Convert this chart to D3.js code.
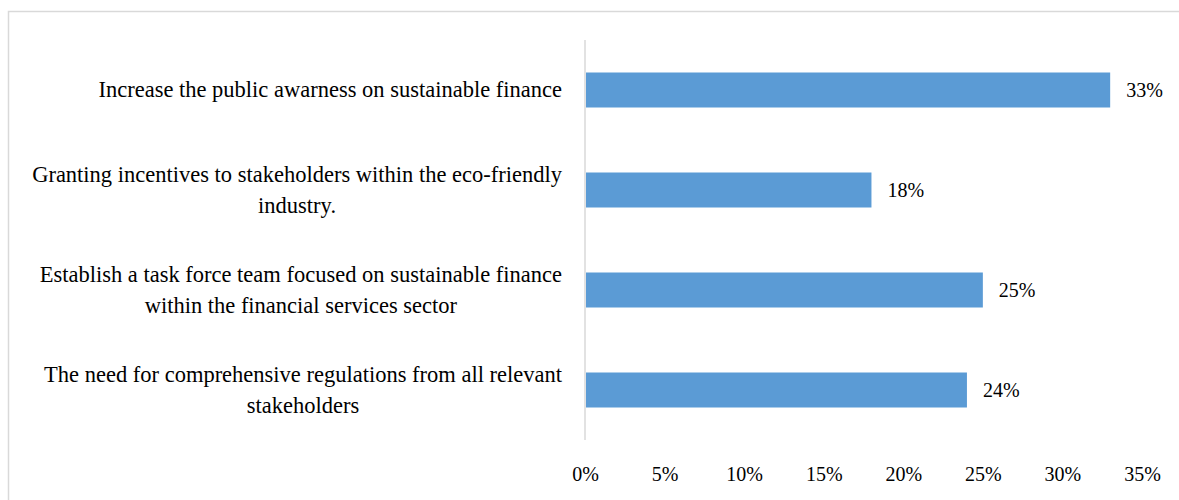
<!DOCTYPE html>
<html>
<head>
<meta charset="utf-8">
<script src="https://cdn.jsdelivr.net/npm/d3@7/dist/d3.min.js"></script>
<style>
  html, body { margin: 0; padding: 0; background: #fff; }
  svg { display: block; }
</style>
</head>
<body>
<svg id="chart" width="1179" height="500"></svg>
<script>
// Category labels (each entry is the list of lines as wrapped in the chart)
const categories = [
  ["Increase the public awarness on sustainable finance"],
  ["Granting incentives to stakeholders within the eco-friendly", "industry."],
  ["Establish a task force team focused on sustainable finance", "within the financial services sector"],
  ["The need for comprehensive regulations from all relevant", "stakeholders"]
];
const values = [0.33, 0.18, 0.25, 0.24];
const tickValues = [0, 0.05, 0.10, 0.15, 0.20, 0.25, 0.30, 0.35];

const svg = d3.select("#chart");
const W = 1179, H = 500;
const FONT = '"Liberation Serif"';

// Chart frame
svg.append("rect")
  .attr("x", 8.5).attr("y", 11.5)
  .attr("width", W + 10).attr("height", H + 10)
  .attr("fill", "none").attr("stroke", "#d9d9d9").attr("stroke-width", 1.5);

const plot = { left: 585, right: 1142, top: 40, bottom: 440 };

const x = d3.scaleLinear().domain([0, 0.35]).range([plot.left, plot.right]);
const y = d3.scaleBand()
  .domain(d3.range(categories.length))
  .range([plot.top, plot.bottom])
  .paddingInner(0.65).paddingOuter(0.325);

// Bars
svg.append("g").selectAll("rect")
  .data(values)
  .join("rect")
  .attr("x", x(0) + 1)
  .attr("y", (d, i) => y(i))
  .attr("width", d => x(d) - x(0) - 1)
  .attr("height", y.bandwidth())
  .attr("fill", "#5b9bd5");

// Vertical category axis line
svg.append("line")
  .attr("x1", x(0)).attr("x2", x(0))
  .attr("y1", plot.top).attr("y2", plot.bottom)
  .attr("stroke", "#d9d9d9").attr("stroke-width", 1.5);

// Value labels
svg.append("g").selectAll("text")
  .data(values)
  .join("text")
  .attr("x", d => x(d) + 16)
  .attr("y", (d, i) => y(i) + y.bandwidth() / 2 + 7)
  .style("font-family", FONT)
  .style("font-size", "20px")
  .attr("fill", "#000")
  .text(d => d3.format(".0%")(d));

// Bottom tick labels via d3 axis (no domain line or ticks)
const xAxis = svg.append("g")
  .attr("transform", `translate(0, ${plot.bottom + 24})`)
  .call(d3.axisBottom(x).tickValues(tickValues).tickFormat(d3.format(".0%")).tickSize(0));
xAxis.select(".domain").remove();
xAxis.selectAll("text")
  .style("font-family", FONT)
  .style("font-size", "20px")
  .attr("fill", "#000");

// Category labels: block right-aligned to the axis, lines centred within block
const labelRight = 562;
const lineH = 31;
const catG = svg.append("g");
categories.forEach((lines, i) => {
  const g = catG.append("g");
  const cy = y(i) + y.bandwidth() / 2;
  const texts = lines.map((ln, j) => g.append("text")
    .style("font-family", FONT)
    .style("font-size", "22.5px")
    .attr("fill", "#000")
    .attr("text-anchor", "middle")
    .attr("y", cy + 7 + (j - (lines.length - 1) / 2) * lineH)
    .text(ln));
  const blockW = d3.max(texts, t => t.node().getComputedTextLength());
  texts.forEach(t => t.attr("x", labelRight - blockW / 2));
});
</script>
</body>
</html>
